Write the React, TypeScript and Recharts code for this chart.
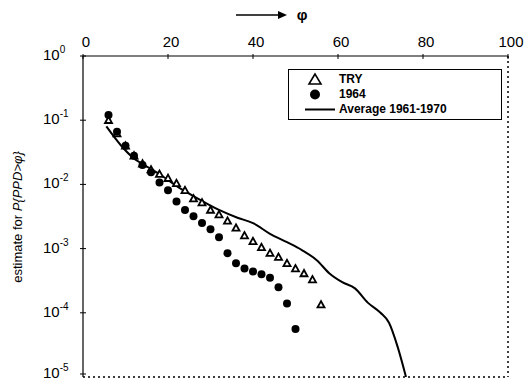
import React from 'react';
import { ComposedChart, Line, Scatter, XAxis, YAxis, ReferenceLine } from 'recharts';

// phi values (top axis) and estimated exceedance probabilities
const tryX = [6, 8, 10, 12, 14, 16, 18, 20, 22, 24, 26, 28, 30, 32, 34, 36, 38, 40, 42, 44, 46, 48, 50, 52, 54, 56];
const tryP = [0.10, 0.062, 0.040, 0.028, 0.021, 0.017, 0.0145, 0.0125, 0.0104, 0.0081, 0.0060, 0.0052, 0.0040, 0.0034, 0.0027, 0.0021, 0.0016, 0.0013, 0.00105, 0.00085, 0.00074, 0.00059, 0.00049, 0.00041, 0.00033, 0.000134];

const y1964X = [6, 8, 10, 12, 14, 16, 18, 20, 22, 24, 26, 28, 30, 32, 34, 36, 38, 40, 42, 44, 46, 48, 50];
const y1964P = [0.12, 0.066, 0.040, 0.028, 0.020, 0.0155, 0.0107, 0.0081, 0.0054, 0.0040, 0.0032, 0.0025, 0.0020, 0.0015, 0.00085, 0.00059, 0.00049, 0.00044, 0.00040, 0.00035, 0.00025, 0.00014, 0.000056];

const avgX = [5.5, 9, 11.5, 15, 18, 22.5, 26.5, 32, 36.5, 40, 44, 48, 51.5, 55, 58, 61, 64, 67, 70, 72, 74, 76];
const avgP = [0.08, 0.040, 0.027, 0.019, 0.0144, 0.0090, 0.0063, 0.0040, 0.0030, 0.0025, 0.0017, 0.00126, 0.00095, 0.00066, 0.00041, 0.00030, 0.00024, 0.000144, 0.0001, 0.00007, 0.00003, 0.00001];

const xTicks = [0, 20, 40, 60, 80, 100];
const yTicks = [1, 0.1, 0.01, 0.001, 0.0001, 0.00001];
const yExp = ['0', '-1', '-2', '-3', '-4', '-5'];

const toRows = (xs: number[], ps: number[]) => xs.map((x, i) => ({ x, p: ps[i] }));
const tryData = toRows(tryX, tryP);
const data1964 = toRows(y1964X, y1964P);
const avgData = toRows(avgX, avgP);

const FONT = 'Liberation Sans, Arial, sans-serif';

const TopTick = (props: any) => {
  const { x, y, payload } = props;
  return (
    <g>
      <line x1={x} x2={x} y1={y - 2} y2={y + 3} stroke="#000" strokeWidth={1} />
      <text x={x + 3} y={y - 9} textAnchor="middle" fontFamily={FONT} fontSize={15} fill="#000">
        {payload.value}
      </text>
    </g>
  );
};

const LeftTick = (props: any) => {
  const { x, y, index } = props;
  return (
    <g>
      <line x1={x - 3} x2={x + 3} y1={y} y2={y} stroke="#000" strokeWidth={1} />
      <text x={x - 40} y={y + 4} fontFamily={FONT} fontSize={15} fill="#000">
        <tspan>10</tspan>
        <tspan dy={-7} fontSize={10}>{yExp[index]}</tspan>
      </text>
    </g>
  );
};

const Triangle = (props: any) => {
  const { cx, cy } = props;
  if (cx == null || cy == null) return null;
  return <polygon points={`${cx},${cy - 3.5} ${cx - 3.5},${cy + 2.8} ${cx + 3.5},${cy + 2.8}`} fill="#fff" stroke="#000" strokeWidth={1.8} />;
};

const Dot = (props: any) => {
  const { cx, cy } = props;
  if (cx == null || cy == null) return null;
  return <circle cx={cx} cy={cy} r={4} fill="#000" />;
};

const LegendBox = () => (
  <div
    style={{
      position: 'absolute',
      left: 288,
      top: 69,
      border: '1.5px solid #000',
      width: 214,
      height: 51,
      background: '#fff',
      fontFamily: FONT,
      fontWeight: 'bold',
      fontSize: 12,
      lineHeight: '15px',
      paddingTop: 2,
      boxSizing: 'border-box',
    }}
  >
    <div style={{ display: 'flex', alignItems: 'center' }}>
      <svg width={50} height={15}>
        <polygon points="26,2 20,12 32,12" fill="#fff" stroke="#000" strokeWidth={1.6} />
      </svg>
      <span>TRY</span>
    </div>
    <div style={{ display: 'flex', alignItems: 'center' }}>
      <svg width={50} height={15}>
        <circle cx={26} cy={7.5} r={5} fill="#000" />
      </svg>
      <span>1964</span>
    </div>
    <div style={{ display: 'flex', alignItems: 'center' }}>
      <svg width={50} height={15}>
        <line x1={16} x2={46} y1={7.5} y2={7.5} stroke="#000" strokeWidth={2} />
      </svg>
      <span>Average 1961-1970</span>
    </div>
  </div>
);

export default function App() {
  return (
    <div style={{ position: 'absolute', left: 0, top: 0, width: 528, height: 383, background: '#fff' }}>
      <ComposedChart width={528} height={383} margin={{ top: 26, right: 20, bottom: 6, left: 0 }}>
        <XAxis
          type="number"
          dataKey="x"
          orientation="top"
          domain={[0, 100]}
          ticks={xTicks}
          height={30}
          tickSize={0}
          tickMargin={0}
          tickLine={false}
          tick={<TopTick />}
          axisLine={{ stroke: '#000', strokeWidth: 1.2 }}
          allowDataOverflow
        />
        <YAxis
          type="number"
          dataKey="p"
          scale="log"
          domain={[0.00001, 1]}
          ticks={yTicks}
          width={83}
          tickSize={0}
          tickMargin={0}
          tickLine={false}
          tick={<LeftTick />}
          axisLine={{ stroke: '#000', strokeWidth: 1.2 }}
          allowDataOverflow
        />
        <ReferenceLine y={0.00001} stroke="#000" strokeWidth={1.5} strokeDasharray="2 3" />
        <ReferenceLine x={100} stroke="#000" strokeWidth={1.5} strokeDasharray="2 3" />
        <Line
          data={avgData}
          dataKey="p"
          type="monotone"
          stroke="#000"
          strokeWidth={2}
          dot={false}
          isAnimationActive={false}
        />
        <Scatter data={tryData} dataKey="p" shape={<Triangle />} isAnimationActive={false} />
        <Scatter data={data1964} dataKey="p" shape={<Dot />} isAnimationActive={false} />
        <text x={22} y={217} transform="rotate(-90 22 217)" textAnchor="middle" fontFamily={FONT} fontSize={13} fill="#000">
          <tspan>estimate for </tspan>
          <tspan fontStyle="italic">{'P{PPD>φ}'}</tspan>
        </text>
        <line x1={236} x2={280} y1={15} y2={15} stroke="#000" strokeWidth={1.5} />
        <polygon points="287,15 278,11 278,19" fill="#000" />
        <text x={302} y={20} textAnchor="middle" fontFamily={FONT} fontWeight="bold" fontSize={15} fill="#000">
          φ
        </text>
      </ComposedChart>
      <LegendBox />
    </div>
  );
}
